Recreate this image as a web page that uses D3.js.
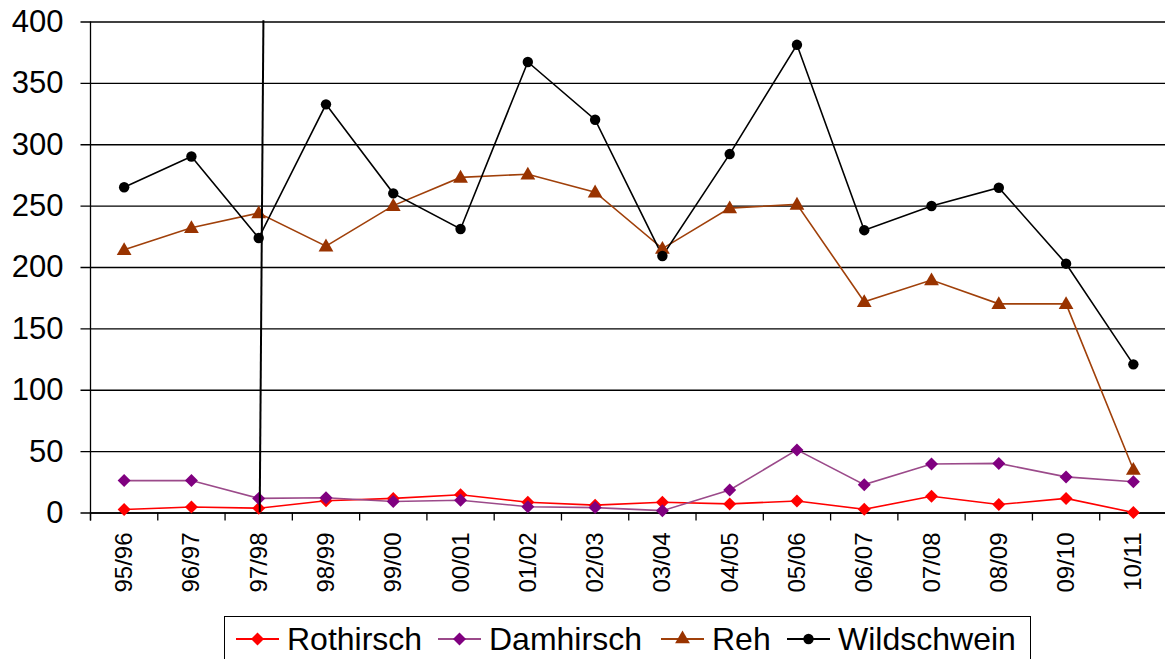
<!DOCTYPE html>
<html><head><meta charset="utf-8">
<script src="https://cdn.jsdelivr.net/npm/d3@7"></script>
<style>
body{margin:0;background:#fff;}
svg{display:block;font-family:"Liberation Sans",Arial,sans-serif;}
</style></head>
<body>
<svg id="c" width="1165" height="659"></svg>
<script>
const categories = ["95/96","96/97","97/98","98/99","99/00","00/01","01/02","02/03","03/04","04/05","05/06","06/07","07/08","08/09","09/10","10/11"];
const rothirsch  = [2.4, 4.5, 3.5, 9.6, 11.5, 14.5, 8.3, 6, 8.3, 7, 9.4, 2.6, 13.2, 6.5, 11.5, 0];
const damhirsch  = [26, 26, 11.5, 12, 9, 10, 4.7, 4, 1.5, 18.3, 51, 22.7, 39.5, 40, 29, 25];
const reh        = [214, 232, 244, 217, 250, 273, 275.6, 261, 215, 248, 251, 171.7, 189.4, 170, 170, 35];
const wildschwein= [265, 290, 223.6, 332.5, 260, 231, 367, 320, 209, 292, 381, 230, 249.7, 264.6, 202.7, 120.7];
const yTicks = [0, 50, 100, 150, 200, 250, 300, 350, 400];
// stray vertical line in the original (category index, value)
const spike = [{i: 2.07, v: 401}, {i: 2.015, v: 0}];

const series = [
  {name:"Rothirsch", values:rothirsch, line:"#FF0000", fill:"#FF0000", shape:"diamond"},
  {name:"Damhirsch", values:damhirsch, line:"#9B4A8A", fill:"#800080", shape:"diamond"},
  {name:"Reh", values:reh, line:"#A0400A", fill:"#993300", shape:"triangle"},
  {name:"Wildschwein", values:wildschwein, line:"#000000", fill:"#000000", shape:"circle"}
];

const svg = d3.select("#c");
const L = 90.5, R = 1167, T = 21.5, B = 512.5;
const x = d3.scaleBand().domain(categories).range([L, R]).padding(0);
const xi = d3.scaleLinear().domain([0, categories.length]).range([L, R]);
const y = d3.scaleLinear().domain([0, 400]).range([B, T]);
const cx = c => x(c) + x.bandwidth()/2;
const xc = d3.scaleLinear().domain([0, categories.length - 1])
  .range([cx(categories[0]), cx(categories[categories.length - 1])]);

// gridlines + y axis ticks
const yAxis = d3.axisLeft(y).tickValues(yTicks).tickSize(R - L + 10).tickFormat(d => d).tickPadding(16);
const gy = svg.append("g").attr("transform", `translate(${R},0)`).call(yAxis);
gy.select(".domain").remove();
gy.selectAll(".tick line").attr("stroke", "#000").attr("stroke-width", 1.3);
gy.selectAll(".tick text").attr("x", -(R - L) - 27).attr("font-size", 31).attr("fill", "#000")
  .attr("font-family", '"Liberation Sans",Arial,sans-serif');

// y axis line
svg.append("line").attr("x1", L).attr("x2", L).attr("y1", T).attr("y2", B + 8).attr("stroke", "#000").attr("stroke-width", 1.3);

// x axis
const xAxis = d3.axisBottom(x).tickSize(0).tickFormat("");
svg.append("g").attr("transform", `translate(0,${B})`).call(xAxis).select(".domain").attr("stroke","#000").attr("stroke-width",1.5);
// tick marks at band boundaries
svg.append("g").selectAll("line").data(d3.range(0, categories.length + 1)).join("line")
  .attr("x1", d => xi(d)).attr("x2", d => xi(d)).attr("y1", B).attr("y2", B + 8)
  .attr("stroke", "#000").attr("stroke-width", 1.3);
// x labels rotated
svg.append("g").selectAll("text").data(categories).join("text")
  .attr("transform", d => `translate(${cx(d) + 8},${B + 20}) rotate(-90)`)
  .attr("text-anchor", "end").attr("font-size", 24).attr("fill", "#000").text(d => d);

// markers
const diamondPath = r => `M0,${-r}L${r},0L0,${r}L${-r},0Z`;
const sym = {
  diamond: () => diamondPath(6.5),
  triangle: d3.symbol().type(d3.symbolTriangle).size(95),
  circle: d3.symbol().type(d3.symbolCircle).size(85)
};
const lineGen = d3.line().x((d, i) => cx(categories[i])).y(d => y(d));
series.forEach(s => {
  svg.append("path").attr("d", lineGen(s.values)).attr("fill", "none").attr("stroke", s.line).attr("stroke-width", 1.6);
});
series.forEach(s => {
  svg.append("g").selectAll("path").data(s.values).join("path")
    .attr("transform", (d, i) => `translate(${cx(categories[i])},${y(d) + (s.shape === "triangle" ? 1 : 0)})`)
    .attr("d", sym[s.shape]()).attr("fill", s.fill);
});

// stray vertical line
svg.append("path").attr("d", d3.line().x(d => xc(d.i)).y(d => y(d.v))(spike))
  .attr("stroke", "#000").attr("stroke-width", 2).attr("fill", "none");

// legend
const lg = svg.append("g");
lg.append("rect").attr("x", 224.5).attr("y", 616.5).attr("width", 806).attr("height", 60)
  .attr("fill", "#fff").attr("stroke", "#000").attr("stroke-width", 1);
const legendPos = [236, 438, 661, 787];
series.forEach((s, k) => {
  const x0 = legendPos[k], ly = 639;
  lg.append("line").attr("x1", x0).attr("x2", x0 + 43).attr("y1", ly).attr("y2", ly).attr("stroke", s.line).attr("stroke-width", 2);
  lg.append("path").attr("transform", `translate(${x0 + 21.5},${ly})`).attr("d", sym[s.shape]()).attr("fill", s.fill);
  lg.append("text").attr("x", x0 + 51).attr("y", ly + 11).attr("font-size", 32).attr("fill", "#000").text(s.name);
});
</script>
</body></html>
